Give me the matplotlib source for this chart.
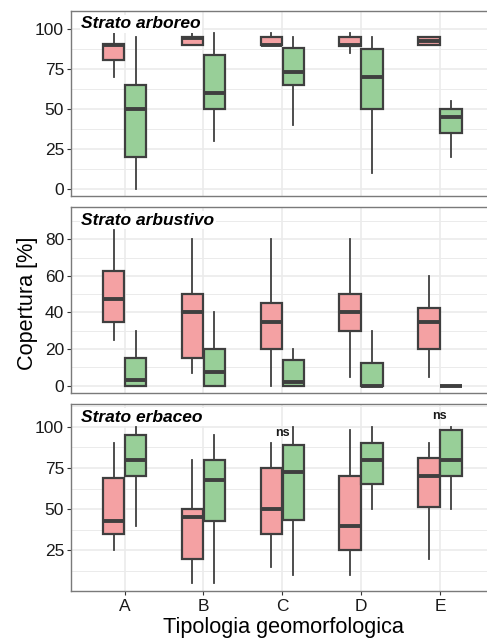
import matplotlib
matplotlib.use("Agg")
import matplotlib.pyplot as plt
from matplotlib.ticker import MultipleLocator, FixedLocator

plt.rcParams['font.family'] = ['Liberation Sans', 'DejaVu Sans']

categories = ["A", "B", "C", "D", "E"]

# Five-number summaries: (whislo, q1, med, q3, whishi)
arboreo_pink = [(70, 81, 90, 91, 98), (90, 90, 94.5, 95.5, 98), (90, 90, 90, 95.5, 98),
                (85, 89.5, 90, 95.5, 98), (90, 90, 92.5, 95, 95)]
arboreo_green = [(0, 20, 50, 65, 95), (30, 50, 60, 84, 98), (40, 65, 73, 88.5, 95),
                 (10, 50, 70, 87.5, 95), (20, 35, 45, 50, 55)]
arbustivo_pink = [(25, 35, 47.5, 62.5, 85), (7, 15, 40, 50, 80), (0, 20, 35, 45, 80),
                  (5, 30, 40, 50, 80), (5, 20, 35, 42.5, 60)]
arbustivo_green = [(0, 0, 3, 15, 30), (0, 0, 7.5, 20, 40), (0, 0, 2, 14, 20),
                   (0, 0, 0, 12.5, 30), (0, 0, 0, 0, 0)]
erbaceo_pink = [(25, 35, 42.5, 69, 90), (5, 20, 45, 50, 80), (15, 35, 50, 75, 90),
                (10, 25, 40, 70, 98), (20, 51, 70, 81, 90)]
erbaceo_green = [(40, 70, 80, 95, 100), (5, 42.5, 67.5, 80, 95), (10, 43.5, 72.5, 89, 100),
                 (50, 65, 80, 90, 100), (50, 70, 80, 98, 100)]

panel_titles = ["Strato arboreo", "Strato arbustivo", "Strato erbaceo"]
ns_positions = [("C", 96.4), ("E", 106.7)]

PINK = "#F4A1A3"
GREEN = "#98CF98"
EDGE = "#3F3F3F"

fig = plt.figure(figsize=(4.87, 6.38), dpi=100)

W, H = 487.0, 638.0
left_px, right_px = 71.0, 493.5
panels_px = [(11, 196), (207, 393), (404, 591)]
ylims = [(-4.4, 111.5), (-4.0, 97.6), (0.3, 113.8)]
majors = [[0, 25, 50, 75, 100], [0, 20, 40, 60, 80], [25, 50, 75, 100]]
minors = [12.5, 10, 12.5]

data = [(arboreo_pink, arboreo_green), (arbustivo_pink, arbustivo_green),
        (erbaceo_pink, erbaceo_green)]


def stats_from(summ):
    out = []
    for lo, q1, med, q3, hi in summ:
        out.append(dict(whislo=lo, q1=q1, med=med, q3=q3, whishi=hi, fliers=[]))
    return out


axes = []
for i, ((top, bot), yl) in enumerate(zip(panels_px, ylims)):
    ax = fig.add_axes([left_px / W, 1 - bot / H, (right_px - left_px) / W, (bot - top) / H])
    axes.append(ax)
    pos = list(range(1, len(categories) + 1))
    pink, green = data[i]
    common = dict(widths=0.27, patch_artist=True, showcaps=False, showfliers=False,
                  boxprops=dict(edgecolor=EDGE, linewidth=1.6),
                  whiskerprops=dict(color=EDGE, linewidth=1.3),
                  medianprops=dict(color=EDGE, linewidth=2.8, solid_capstyle='butt'),
                  manage_ticks=False, zorder=3)
    b1 = ax.bxp(stats_from(pink), positions=[p - 0.14 for p in pos], **common)
    b2 = ax.bxp(stats_from(green), positions=[p + 0.14 for p in pos], **common)
    for patch in b1['boxes']:
        patch.set_facecolor(PINK)
    for patch in b2['boxes']:
        patch.set_facecolor(GREEN)

    ax.set_xlim(0.32, 5.68)
    ax.set_ylim(*yl)
    ax.yaxis.set_major_locator(FixedLocator(majors[i]))
    ax.yaxis.set_minor_locator(MultipleLocator(minors[i]))
    ax.set_xticks(pos)
    ax.grid(True, which='major', color='#EBEBEB', linewidth=1.2, zorder=0)
    ax.grid(True, which='minor', axis='y', color='#EBEBEB', linewidth=0.7, zorder=0)
    ax.set_axisbelow(True)
    for s in ax.spines.values():
        s.set_color('#7A7A7A')
        s.set_linewidth(1.0)
    ax.tick_params(axis='y', which='major', length=3, width=0.8, color='#333333',
                   labelsize=12.5, labelcolor='#1A1A1A', pad=2)
    ax.tick_params(axis='y', which='minor', length=0)
    if i < 2:
        ax.tick_params(axis='x', length=0, labelbottom=False)
    else:
        ax.set_xticklabels(categories)
        ax.tick_params(axis='x', length=3, width=0.8, color='#333333',
                       labelsize=12.5, labelcolor='#1A1A1A', pad=3)
    ax.text(0.024, 0.93, panel_titles[i], transform=ax.transAxes, ha='left', va='center',
            fontsize=12.5, fontweight='bold', fontstyle='italic', color='black', zorder=5,
            bbox=dict(facecolor='white', edgecolor='none', pad=1.0))

for cat, yv in ns_positions:
    axes[2].text(categories.index(cat) + 1, yv, "ns", ha='center', va='center',
                 fontsize=9, fontweight='bold', color='#1A1A1A', zorder=5)

fig.text(283 / W, 1 - 632.5 / H, "Tipologia geomorfologica", ha='center', va='baseline',
         fontsize=15.6, color='black')
fig.text(28 / W, 1 - 303 / H, "Copertura [%]", rotation=90, ha='center', va='center',
         fontsize=15.6, color='black')

fig.savefig("out.png", dpi=100)
